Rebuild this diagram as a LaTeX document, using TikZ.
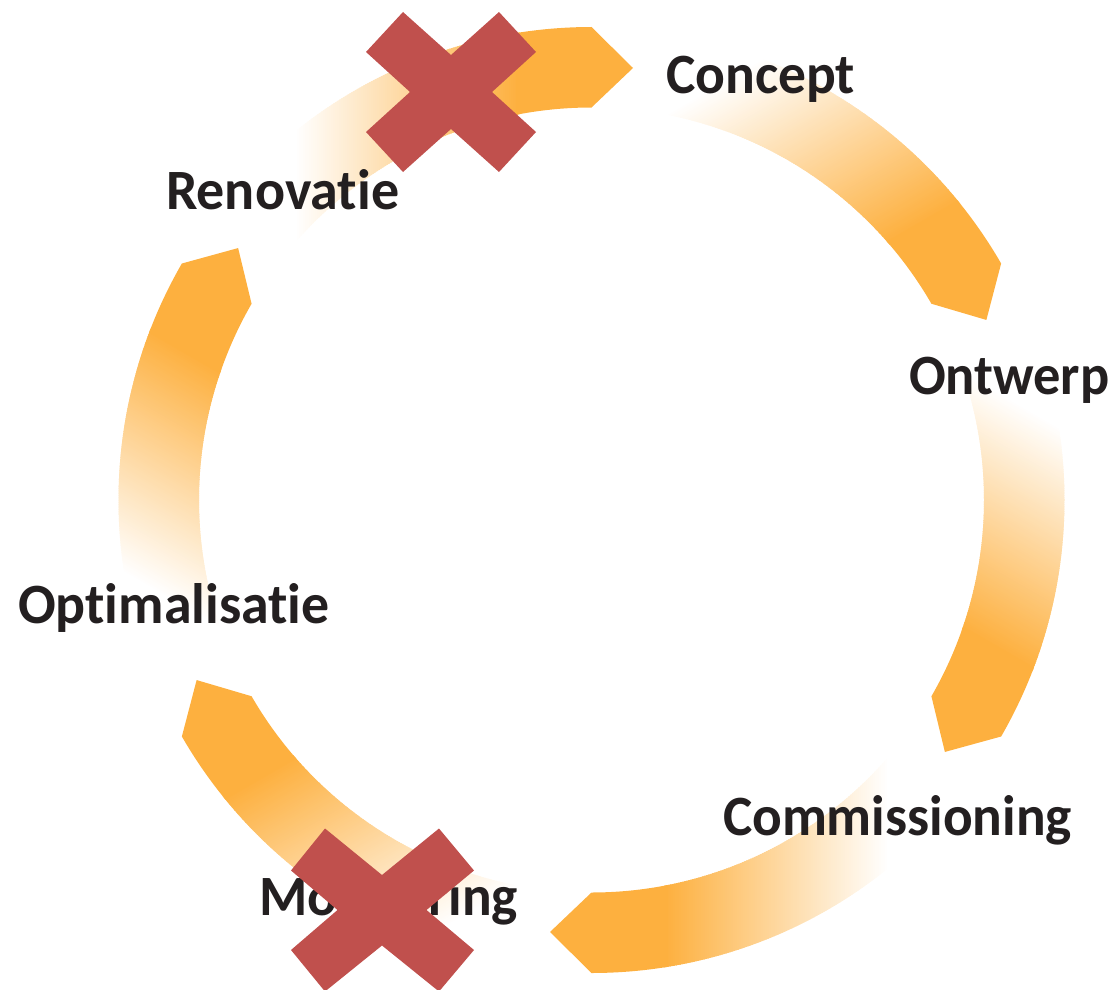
\documentclass[tikz,border=0pt]{standalone}
\usepackage{graphicx}
\usepackage{fontspec}
\setmainfont{Carlito}[Ligatures=NoCommon]
\definecolor{arrowfill}{HTML}{FDB03F}
\definecolor{crossfill}{HTML}{C0504D}
\definecolor{labeltext}{HTML}{231F20}
\tikzset{
  steplabel/.style={anchor=base west,inner sep=0pt,outer sep=0pt,text=labeltext,font=\fontsize{57}{60}\selectfont\bfseries},
  crossmark/.style={fill=crossfill,draw=none},
}
\newcommand{\ringarrow}[1]{%
  \begin{scope}[shift={(591.5,-500)},rotate=#1]
    \begin{scope}
      \clip (0,473) arc[start angle=90,end angle=150,radius=473pt]
        -- (150:392.5) arc[start angle=150,end angle=90,radius=392.5pt]
        -- (41.5,432) -- cycle;
      \foreach \i in {0,...,111}{
        \pgfmathsetmacro{\xa}{-297+2*\i}
        \pgfmathsetmacro{\xb}{\xa+3}
        \pgfmathsetmacro{\p}{100*\i/111}
        \fill[arrowfill!\p!white] (\xa,200) rectangle (\xb,500);
      }
      \fill[arrowfill] (-76,200) rectangle (60,500);
    \end{scope}
  \end{scope}}
\begin{document}
\begin{tikzpicture}[x=1pt,y=1pt]
  \useasboundingbox (0,0) rectangle (1117,-990);
  \foreach \k in {0,-60,-120,-180,-240,-300}{\ringarrow{\k}}
  \node[steplabel] (concept) at (666,-93) {\scalebox{0.974}[1]{Concept}};
  \node[steplabel] (ontwerp) at (909,-394) {\scalebox{0.955}[1]{Ontwerp}};
  \node[steplabel] (commissioning) at (723,-835) {\scalebox{0.97}[1]{Commissioning}};
  \node[steplabel] (monitoring) at (259,-915) {\scalebox{0.97}[1]{Monitoring}};
  \node[steplabel] (optimalisatie) at (18,-623) {\scalebox{0.98}[1]{Optimalisatie}};
  \node[steplabel] (renovatie) at (166,-209) {\scalebox{0.983}[1]{Renovatie}};
  \fill[crossmark] (403,-12) -- (451,-55) -- (499,-12) -- (536,-52) -- (492,-92) -- (536,-132)
    -- (499,-172) -- (451,-129) -- (403,-172) -- (366,-132) -- (410,-92) -- (366,-52) -- cycle;
  \fill[crossmark] (325,-828.5) -- (382,-875) -- (439,-828.5) -- (474,-870.5) -- (426.5,-910) -- (474,-950)
    -- (439,-991.5) -- (382,-945.5) -- (325,-991.5) -- (291,-950) -- (337.5,-910) -- (291,-870.5) -- cycle;
\end{tikzpicture}
\end{document}
